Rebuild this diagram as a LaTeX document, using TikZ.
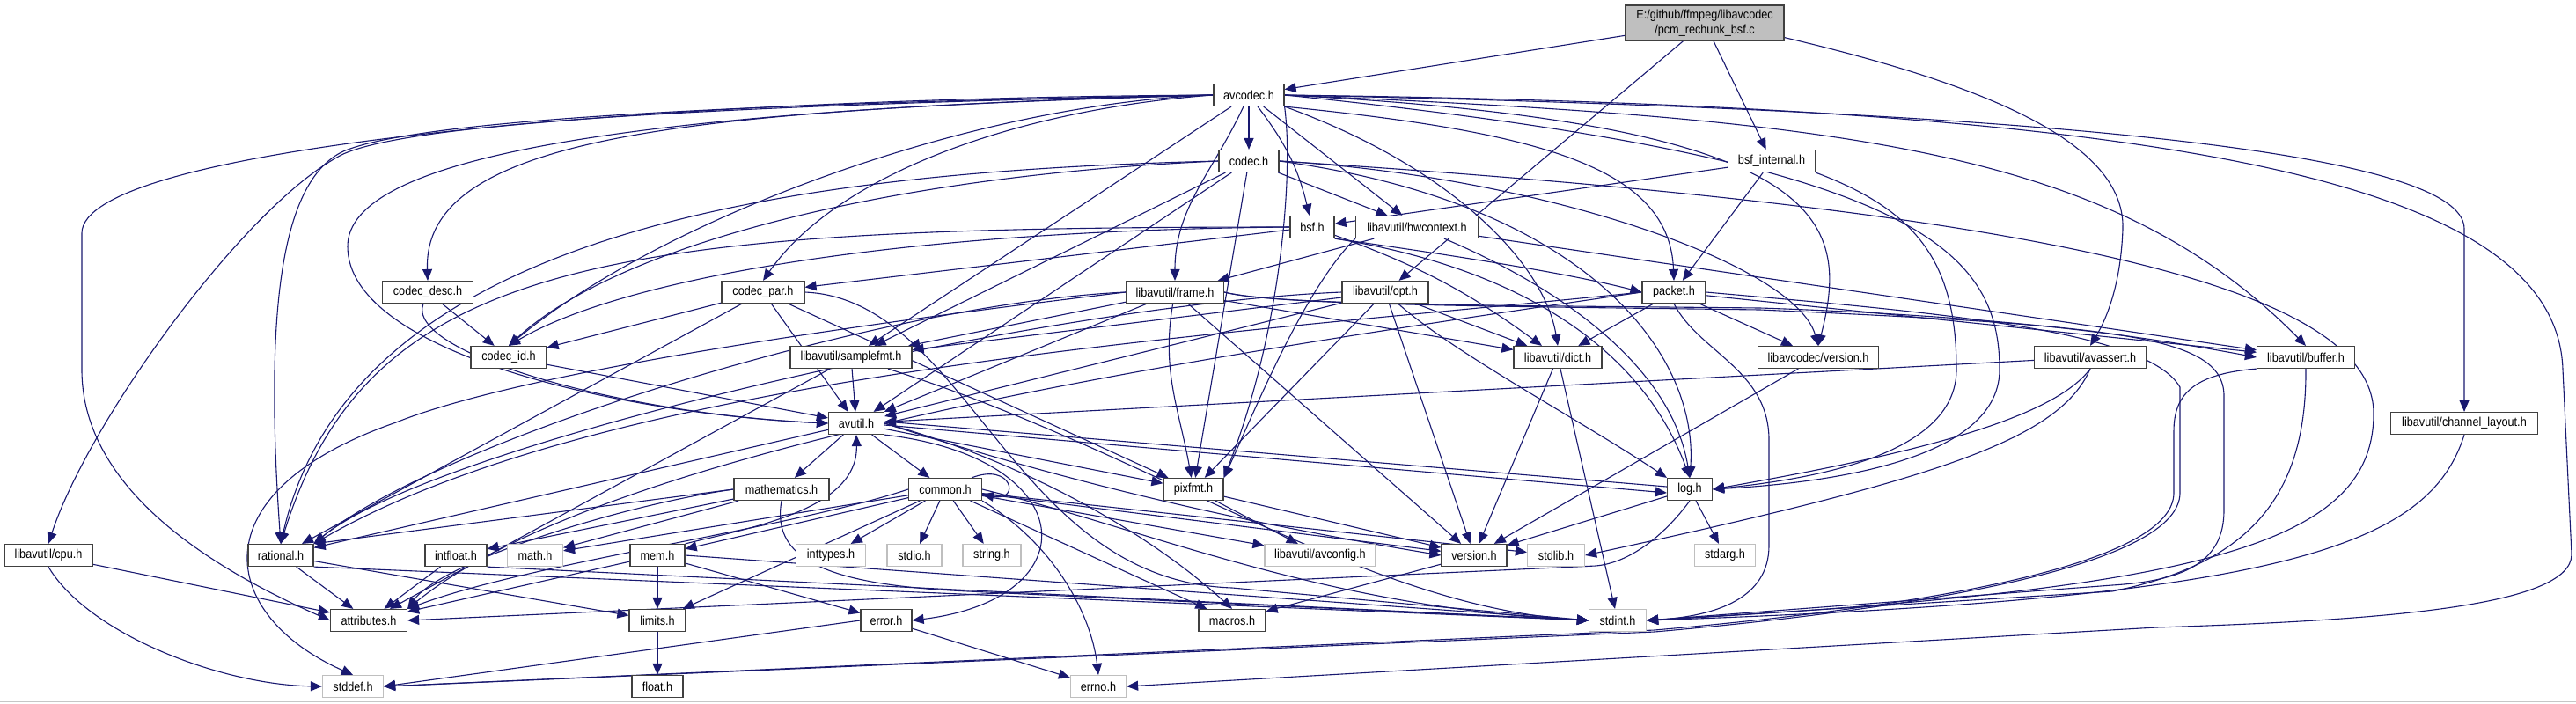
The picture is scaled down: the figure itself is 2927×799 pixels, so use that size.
\documentclass[tikz,border=0pt]{standalone}
\usepackage{fontspec}
\setmainfont{Liberation Sans}[FakeStretch=0.88]
\usetikzlibrary{arrows.meta,calc}
\definecolor{edgec}{RGB}{25,25,112}
\definecolor{gryfill}{RGB}{191,191,191}
\definecolor{grybd}{RGB}{191,191,191}
\definecolor{blkbd}{RGB}{64,64,64}
\pgfdeclarelayer{bgl}
\pgfdeclarelayer{edges}
\pgfsetlayers{bgl,edges,main}
\begin{document}
\begin{tikzpicture}[x=0.5pt,y=0.5pt,
  nd/.style={draw=blkbd, line width=0.6pt, fill=white, inner sep=0pt, minimum height=12.5pt, font=\fontsize{7.2}{8.4}\selectfont, text=black},
  sysnd/.style={nd, draw=grybd},
  e/.style={draw=edgec, line width=0.55pt, -{Triangle[length=6.5pt,width=5.5pt]}},
]
\useasboundingbox (0,0) rectangle (2927,-799);
\begin{pgfonlayer}{bgl}
\fill[white] (0,0) rectangle (2927,-799);
\draw[gray!45, line width=0.6pt] (0,-797.5) -- (2927,-797.5);
\end{pgfonlayer}

% nodes
\node[nd, fill=gryfill, minimum width=90pt, minimum height=20pt, align=center] (root) at (1937,-26) {E:/github/ffmpeg/libavcodec\\/pcm\_rechunk\_bsf.c};
\node[nd, minimum width=40pt] (ac) at (1419,-108) {avcodec.h};
\node[nd, minimum width=34pt] (cd) at (1419,-183) {codec.h};
\node[nd, minimum width=49.5pt] (bi) at (2013,-183) {bsf\_internal.h};
\node[nd, minimum width=25pt] (bsf) at (1491,-258) {bsf.h};
\node[nd, minimum width=69.5pt] (hw) at (1610,-258) {libavutil/hwcontext.h};
\node[nd, minimum width=51.5pt] (cdesc) at (486,-332) {codec\_desc.h};
\node[nd, minimum width=47pt] (cpar) at (867,-332) {codec\_par.h};
\node[nd, minimum width=55.5pt] (fr) at (1335,-332) {libavutil/frame.h};
\node[nd, minimum width=49pt] (opt) at (1574,-332) {libavutil/opt.h};
\node[nd, minimum width=36pt] (pkt) at (1902,-332) {packet.h};
\node[nd, minimum width=43pt] (cid) at (578,-406) {codec\_id.h};
\node[nd, minimum width=69pt] (sfmt) at (967,-406) {libavutil/samplefmt.h};
\node[nd, minimum width=50pt] (dict) at (1770,-406) {libavutil/dict.h};
\node[nd, minimum width=68.5pt] (lcver) at (2066,-406) {libavcodec/version.h};
\node[nd, minimum width=55.5pt] (buf) at (2620,-406) {libavutil/buffer.h};
\node[nd, minimum width=63.5pt] (avas) at (2375,-406) {libavutil/avassert.h};
\node[nd, minimum width=83.5pt] (chl) at (2800,-481) {libavutil/channel\_layout.h};
\node[nd, minimum width=50pt] (cpu) at (55,-631) {libavutil/cpu.h};
\node[nd, minimum width=37pt] (rat) at (319,-631) {rational.h};
\node[nd, minimum width=43.5pt] (attr) at (419,-705) {attributes.h};
\node[sysnd, minimum width=34.5pt] (stddef) at (401,-780) {stddef.h};
\node[nd, minimum width=31.5pt] (avu) at (973,-481) {avutil.h};
\node[nd, minimum width=54pt] (math) at (888,-556) {mathematics.h};
\node[nd, minimum width=35pt] (intf) at (518,-631) {intfloat.h};
\node[sysnd, minimum width=31.5pt] (mathh) at (608,-631) {math.h};
\node[nd, minimum width=31pt] (mem) at (747,-631) {mem.h};
\node[sysnd, minimum width=39.5pt] (intt) at (944,-631) {inttypes.h};
\node[nd, minimum width=32pt] (lim) at (747,-705) {limits.h};
\node[nd, minimum width=29pt] (flt) at (747,-780) {float.h};
\node[nd, minimum width=29pt] (err) at (1007,-705) {error.h};
\node[nd, minimum width=41.5pt] (com) at (1074,-556) {common.h};
\node[sysnd, minimum width=31pt] (stdio) at (1039,-631) {stdio.h};
\node[sysnd, minimum width=33pt] (str) at (1127,-631) {string.h};
\node[nd, minimum width=34pt] (pix) at (1356,-556) {pixfmt.h};
\node[sysnd, minimum width=63pt] (avcf) at (1500,-631) {libavutil/avconfig.h};
\node[nd, minimum width=38pt] (mac) at (1400,-705) {macros.h};
\node[sysnd, minimum width=31.5pt] (errno) at (1248,-780) {errno.h};
\node[nd, minimum width=37pt] (ver) at (1675,-631) {version.h};
\node[sysnd, minimum width=32.5pt] (stdlib) at (1768,-631) {stdlib.h};
\node[sysnd, minimum width=34.5pt] (stdarg) at (1960,-631) {stdarg.h};
\node[nd, minimum width=25.5pt] (log) at (1920,-556) {log.h};
\node[sysnd, minimum width=32.5pt] (stdint) at (1838,-705) {stdint.h};

\begin{pgfonlayer}{edges}
% root
\draw[e] (root) -- (ac);
\draw[e] (root) -- (bi);
\draw[e] (root) -- (opt);
\draw[e] ($(root.south east)+(0,4)$) .. controls (2250,-95) and (2415,-160) .. (2412,-260) .. controls (2410,-320) and (2395,-360) .. (avas.north);
% avcodec.h
\draw[e] (ac) -- (cd);
\draw[e] (ac) to[bend left=12] (bsf);
\draw[e] (ac) -- (hw);
\draw[e] (ac.south east) .. controls (1750,-150) and (1897,-190) .. (pkt.north);
\draw[e] (ac.south east) .. controls (1650,-190) and (1755,-300) .. (dict.north);
\draw[e] (ac.east) .. controls (2080,-140) and (2103,-250) .. (lcver.north);
\draw[e] (ac.east) .. controls (2100,-135) and (2400,-170) .. (buf.north);
\draw[e] (ac.east) .. controls (2300,-125) and (2800,-170) .. (2800,-260) -- (chl.north);
\draw[e] (ac.east) .. controls (2450,-120) and (2905,-200) .. (2912,-420) -- (2922,-630) .. controls (2922,-690) and (2700,-705) .. (2450,-713) -- (errno.east);
\draw[e] (ac.east) .. controls (2170,-180) and (2272,-280) .. (2272,-420) .. controls (2272,-530) and (2050,-550) .. (log.east);
\draw[e] (ac) to[out=-115,in=90] (fr);
\draw[e] (ac) -- (sfmt);
\draw[e] (ac.west) .. controls (1150,-125) and (950,-200) .. (cpar.north);
\draw[e] (ac.west) .. controls (1100,-118) and (750,-250) .. (cid.north);
\draw[e] (ac.west) .. controls (800,-125) and (480,-150) .. (cdesc.north);
\draw[e] (ac.west) .. controls (700,-125) and (395,-180) .. (395,-280) .. controls (395,-400) and (700,-470) .. (avu.west);
\draw[e] (ac.west) .. controls (800,-118) and (470,-138) .. (390,-172) .. controls (320,-205) and (300,-350) .. (rat.north);
\draw[e] (ac.west) .. controls (700,-112) and (93,-170) .. (93,-265) -- (93,-420) .. controls (93,-560) and (250,-650) .. (attr.west);
\draw[e] (ac.west) .. controls (800,-120) and (470,-140) .. (390,-175) .. controls (280,-230) and (100,-480) .. (cpu.north);
\draw[e] (ac.south east) .. controls (1470,-200) and (1455,-380) .. (pix.north east);
% codec.h
\draw[e] (cd.east) .. controls (2350,-240) and (2697,-330) .. (2697,-470) .. controls (2697,-620) and (2500,-670) .. (stdint.east);
\draw[e] (cd) -- (avu);
\draw[e] (cd) -- (hw);
\draw[e] (cd.east) .. controls (1800,-230) and (1930,-400) .. (log.north);
\draw[e] (cd) -- (pix);
\draw[e] (cd.west) .. controls (900,-195) and (400,-260) .. (rat.north);
\draw[e] (cd) -- (sfmt);
\draw[e] (cd.west) .. controls (1000,-200) and (700,-280) .. (cid.north);
\draw[e] (cd.east) .. controls (1750,-200) and (2040,-300) .. (lcver.north);
% bsf.h
\draw[e] (bsf) to[bend left=8] (dict);
\draw[e] (bsf.south east) .. controls (1700,-300) and (1860,-380) .. (log.north);
\draw[e] (bsf.west) .. controls (700,-258) and (420,-290) .. (rat.north);
\draw[e] (bsf.west) .. controls (1000,-262) and (700,-320) .. (cid.north);
\draw[e] (bsf) -- (cpar);
\draw[e] (bsf.south east) .. controls (1650,-290) and (1780,-310) .. (pkt.west);
% bsf_internal.h
\draw[e] (bi.south east) .. controls (2180,-240) and (2223,-300) .. (2223,-420) .. controls (2223,-520) and (2050,-545) .. (log.east);
\draw[e] (bi) -- (bsf);
\draw[e] (bi) -- (pkt);
% codec_desc.h
\draw[e] (cdesc) .. controls (460,-400) and (700,-470) .. (avu.west);
\draw[e] (cdesc) -- (cid);
% codec_par.h
\draw[e] (cpar.east) .. controls (1100,-340) and (1150,-660) .. (1400,-668) -- (stdint.west);
\draw[e] (cpar) -- (avu);
\draw[e] (cpar) -- (rat);
\draw[e] (cpar) -- (pix);
\draw[e] (cpar) -- (cid);
% codec_id.h
\draw[e] (cid) -- (avu);
% packet.h
\draw[e] (pkt.east) .. controls (2200,-355) and (2440,-375) .. (2477,-440) -- (2477,-560) .. controls (2477,-640) and (2200,-690) .. (1880,-718) -- (stddef.east);
\draw[e] (pkt.south) .. controls (1930,-400) and (2010,-420) .. (2010,-500) -- (2010,-620) .. controls (2010,-680) and (1950,-700) .. (stdint.east);
\draw[e] (pkt.west) .. controls (1400,-400) and (700,-500) .. (attr.north east);
\draw[e] (pkt) -- (buf);
\draw[e] (pkt) -- (dict);
\draw[e] (pkt.west) .. controls (1400,-380) and (700,-420) .. (rat.north east);
\draw[e] (pkt) -- (lcver);
% frame.h
\draw[e] (fr) -- (avu);
\draw[e] (fr.east) .. controls (1450,-347) and (1700,-347) .. (2000,-350) .. controls (2300,-360) and (2450,-385) .. (buf.west);
\draw[e] (fr) -- (dict);
\draw[e] (fr.west) .. controls (1000,-345) and (500,-500) .. (rat.north east);
\draw[e] (fr) -- (sfmt);
\draw[e] (fr) to[out=-100,in=100] (pix);
\draw[e] (fr) -- (ver);
\draw[e] (fr.west) .. controls (1000,-365) and (600,-420) .. (450,-480) .. controls (220,-560) and (250,-700) .. (stddef.north);
\draw[e] (fr.east) .. controls (1450,-347) and (1700,-348) .. (2000,-352) .. controls (2400,-370) and (2527,-380) .. (2527,-450) -- (2527,-580) .. controls (2527,-640) and (2480,-660) .. (2400,-665) -- (stdint.east);
% hwcontext.h
\draw[e] (hw) -- (buf);
\draw[e] (hw) -- (fr);
\draw[e] (hw) .. controls (1780,-330) and (1900,-420) .. (log.north);
\draw[e] (hw.south west) .. controls (1480,-330) and (1420,-480) .. (pix.north east);
% opt.h
\draw[e] (opt.west) .. controls (1200,-345) and (500,-500) .. (rat.north east);
\draw[e] (opt) -- (avu);
\draw[e] (opt) -- (dict);
\draw[e] (opt) .. controls (1650,-400) and (1800,-480) .. (log.north west);
\draw[e] (opt) -- (pix);
\draw[e] (opt) -- (sfmt);
\draw[e] (opt) -- (ver);
% samplefmt.h
\draw[e] (sfmt) .. controls (1300,-510) and (1550,-690) .. (stdint.west);
\draw[e] (sfmt) -- (avu);
\draw[e] (sfmt) -- (attr);
% dict.h
\draw[e] (dict) -- (stdint);
\draw[e] (dict) -- (ver);
% libavcodec/version.h
\draw[e] (lcver) -- (ver);
% buffer.h
\draw[e] (buf.south west) .. controls (2490,-425) and (2470,-450) .. (2470,-490) -- (2470,-560) .. controls (2470,-640) and (2200,-688) .. (1880,-716) -- (stddef.east);
\draw[e] (buf.south) .. controls (2621,-560) and (2560,-640) .. (2400,-672) -- (stdint.east);
% avassert.h
\draw[e] (avas.south) .. controls (2340,-500) and (2200,-545) .. (stdlib.east);
\draw[e] (avas.south) .. controls (2330,-480) and (2150,-520) .. (log.east);
\draw[e] (avas) -- (avu);
% channel_layout.h
\draw[e] (chl.south) .. controls (2760,-620) and (2600,-680) .. (stdint.east);
% cpu.h
\draw[e] (cpu) -- (attr);
\draw[e] (cpu.south) .. controls (100,-720) and (250,-778) .. (stddef.west);
% rational.h
\draw[e] (rat.south east) -- (stdint.west);
\draw[e] (rat) -- (lim);
\draw[e] (rat) -- (attr);
% intfloat.h
\draw[e] (intf.south east) -- (stdint.west);
\draw[e] (intf) -- (attr);
% avutil.h
\draw[e] (avu) -- (com);
\draw[e] (avu.south east) .. controls (1230,-520) and (1240,-680) .. (err.east);
\draw[e] (avu) -- (rat);
\draw[e] (avu.east) .. controls (1250,-560) and (1450,-600) .. (ver.west);
\draw[e] (avu.east) .. controls (1150,-520) and (1300,-600) .. (mac.north);
\draw[e] (avu) -- (math);
\draw[e] ([yshift=-1pt]avu.east) -- ([yshift=-2pt]log.west);
\draw[e] ([yshift=1.5pt]log.west) -- ([yshift=1pt]avu.east);
\draw[e] (avu) -- (pix);
% log.h
\draw[e] (log) -- (stdarg);
\draw[e] (log.south) .. controls (1890,-610) and (1850,-640) .. (1813,-643) -- (attr.east);
\draw[e] (log) -- (ver);
% pixfmt.h
\draw[e] (pix) -- (avcf);
\draw[e] (pix) -- (ver);
% mathematics.h
\draw[e] (math.south) .. controls (875,-640) and (950,-665) .. (1100,-672) -- (stdint.west);
\draw[e] (math) -- (mathh);
\draw[e] (math.west) .. controls (700,-575) and (500,-640) .. (attr.north east);
\draw[e] (math.west) -- (rat.north east);
\draw[e] (math) -- (intf);
% common.h
\draw[e] (com.south east) .. controls (1200,-620) and (1240,-700) .. (errno.north);
\draw[e] (com) -- (intt);
\draw[e] (com) -- (lim);
\draw[e] (com) -- (mathh);
\draw[e] (com.east) .. controls (1300,-600) and (1500,-690) .. (stdint.west);
\draw[e] (com) -- (stdio);
\draw[e] (com) -- (stdlib);
\draw[e] (com) -- (str);
\draw[e] (com.west) .. controls (900,-600) and (600,-640) .. (attr.north east);
\draw[e] (com) -- (mac);
\draw[e] (com) -- (ver);
\draw[e] (com) -- (avcf);
\draw[e] (com) -- (mem);
\draw[e] ([xshift=-6pt]com.north east) .. controls (1150,-525) and (1160,-570) .. ([yshift=-3pt]com.east);
% mem.h
\draw[e] (mem) -- (lim);
\draw[e] (mem.east) -- (stdint.west);
\draw[e] (mem) -- (attr);
\draw[e] (mem) -- (err);
\draw[e] (mem.north east) .. controls (850,-600) and (975,-580) .. (avu.south);
% error.h
\draw[e] (err) -- (errno);
\draw[e] (err.west) -- (stddef.east);
% others
\draw[e] (lim) -- (flt);
\draw[e] (ver) -- (mac);
\end{pgfonlayer}
\end{tikzpicture}
\end{document}
